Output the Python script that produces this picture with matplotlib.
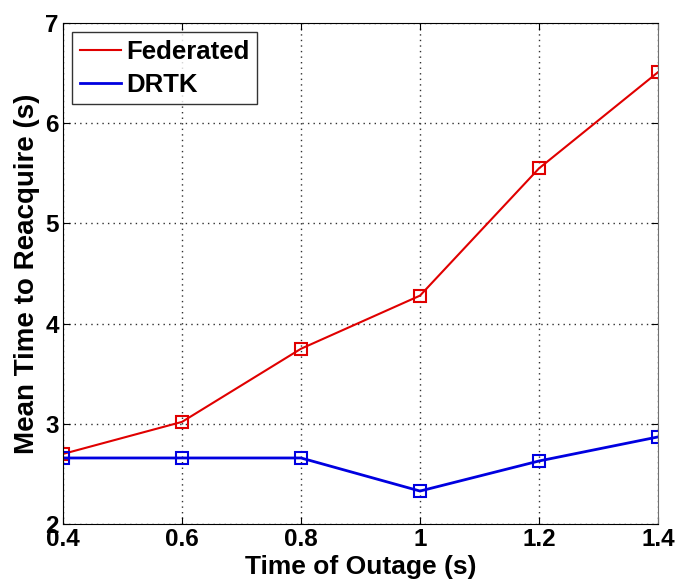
import matplotlib
matplotlib.use("Agg")
import matplotlib.pyplot as plt

outage = [0.4, 0.6, 0.8, 1.0, 1.2, 1.4]
federated = [2.70, 3.02, 3.75, 4.28, 5.55, 6.51]
drtk = [2.66, 2.66, 2.66, 2.33, 2.63, 2.87]

xticks = [0.4, 0.6, 0.8, 1.0, 1.2, 1.4]
xticklabels = ["0.4", "0.6", "0.8", "1", "1.2", "1.4"]
yticks = [2, 3, 4, 5, 6, 7]

plt.rcParams["font.family"] = ["Liberation Sans", "DejaVu Sans"]
plt.rcParams["font.weight"] = "bold"

fig = plt.figure(figsize=(6.77, 5.83), dpi=100)
ax = fig.add_axes([0.093, 0.101, 0.879, 0.8595])

ax.plot(outage, federated, color="#e00000", lw=1.5, marker="s", ms=9,
        mfc="none", mec="#e00000", mew=1.5, label="Federated")
ax.plot(outage, drtk, color="#0000e0", lw=2, marker="s", ms=9,
        mfc="none", mec="#0000e0", mew=1.5, label="DRTK")

ax.set_xlim(0.4, 1.4)
ax.set_ylim(2, 7)
ax.set_xticks(xticks)
ax.set_xticklabels(xticklabels)
ax.set_yticks(yticks)
ax.tick_params(direction="in", labelsize=17.5, length=5, pad=3,
               top=True, right=True)
ax.tick_params(axis="x", pad=3)
for lab in ax.get_xticklabels() + ax.get_yticklabels():
    lab.set_fontweight("bold")
ax.spines["right"].set_color("#707070")

ax.grid(True, linestyle=(0, (1, 3)), color="#303030", lw=1)
ax.set_xlabel("Time of Outage (s)", fontsize=19, fontweight="bold", labelpad=3)
ax.set_ylabel("Mean Time to Reacquire (s)", fontsize=20, fontweight="bold", labelpad=4)

leg = ax.legend(loc="upper left", fontsize=18.5, frameon=True, fancybox=False,
                edgecolor="black", handlelength=1.6, handletextpad=0.2,
                borderaxespad=0.35, borderpad=0.3, labelspacing=0.35)
leg.get_frame().set_linewidth(1)
for t in leg.get_texts():
    t.set_fontweight("bold")
for h in leg.legend_handles:
    h.set_marker("")

fig.savefig("out.png", dpi=100)
